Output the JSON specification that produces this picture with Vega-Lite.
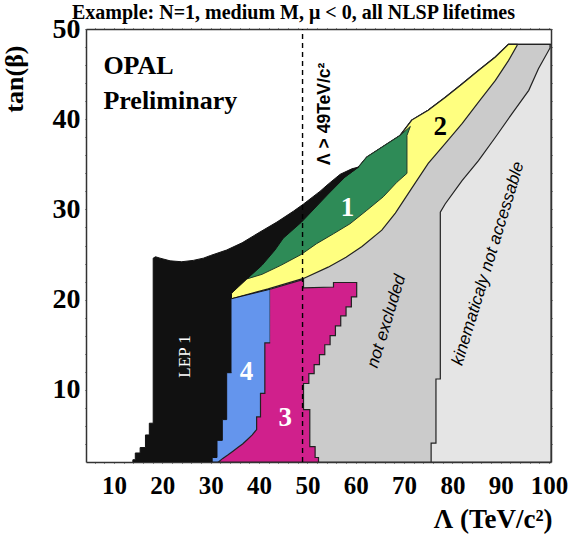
{
  "$schema": "https://vega.github.io/schema/vega-lite/v6.json",
  "width": 465,
  "height": 433,
  "autosize": {"type": "none"},
  "padding": {"left": 86, "top": 29, "right": 20, "bottom": 74},
  "background": "white",
  "title": {"text": "Example: N=1, medium M, μ < 0, all NLSP lifetimes", "font": "Liberation Serif", "fontSize": 20, "fontWeight": "bold", "color": "#000", "anchor": "middle", "frame": "group", "dx": -25, "offset": -24, "baseline": "alphabetic"},
  "config": {"view": {"stroke": null}},
  "data": {"values": [
    {"r":"lg","x":60,"y":2},{"r":"lg","x":100.4,"y":2},{"r":"lg","x":100.4,"y":48.3},{"r":"lg","x":91.6,"y":48.3},{"r":"lg","x":88.9,"y":46.9},{"r":"lg","x":85.4,"y":45.4},{"r":"lg","x":82,"y":43.9},{"r":"lg","x":78.5,"y":42.4},{"r":"lg","x":75,"y":41},{"r":"lg","x":71.6,"y":39.9},{"r":"lg","x":69.2,"y":38.2},{"r":"lg","x":62.3,"y":35.8},{"r":"lg","x":60.6,"y":34.7},
    {"r":"gr","x":40,"y":2},{"r":"gr","x":75.6,"y":2},{"r":"gr","x":75.6,"y":4.1},{"r":"gr","x":76.6,"y":4.1},{"r":"gr","x":76.6,"y":11.2},{"r":"gr","x":77.5,"y":11.2},{"r":"gr","x":77.5,"y":29.7},{"r":"gr","x":78.5,"y":30.6},{"r":"gr","x":82,"y":33.2},{"r":"gr","x":85.4,"y":35.4},{"r":"gr","x":88.9,"y":38},{"r":"gr","x":92.3,"y":40.6},{"r":"gr","x":95.8,"y":43.2},{"r":"gr","x":97.8,"y":45.6},{"r":"gr","x":100.2,"y":47.9},{"r":"gr","x":100.2,"y":48.3},{"r":"gr","x":91.6,"y":48.3},{"r":"gr","x":88.9,"y":46.9},{"r":"gr","x":85.4,"y":45.4},{"r":"gr","x":82,"y":43.9},{"r":"gr","x":78.5,"y":42.4},{"r":"gr","x":75,"y":41},{"r":"gr","x":71.6,"y":39.9},{"r":"gr","x":69.2,"y":38.2},{"r":"gr","x":62.3,"y":35.8},{"r":"gr","x":60.6,"y":34.7},{"r":"gr","x":40,"y":20},
    {"r":"ye","x":34.3,"y":20.1},{"r":"ye","x":41.9,"y":21.2},{"r":"ye","x":49.2,"y":22.35},{"r":"ye","x":54.3,"y":23.6},{"r":"ye","x":58,"y":24.7},{"r":"ye","x":61.3,"y":25.9},{"r":"ye","x":65.4,"y":27.7},{"r":"ye","x":68.2,"y":29.6},{"r":"ye","x":71.4,"y":32.2},{"r":"ye","x":75,"y":35.1},{"r":"ye","x":78.5,"y":37.3},{"r":"ye","x":82,"y":39.5},{"r":"ye","x":85.4,"y":41.9},{"r":"ye","x":88.9,"y":44.3},{"r":"ye","x":91.6,"y":46.5},{"r":"ye","x":93.4,"y":48.2},{"r":"ye","x":93.4,"y":48.3},{"r":"ye","x":91.6,"y":48.3},{"r":"ye","x":88.9,"y":46.9},{"r":"ye","x":85.4,"y":45.4},{"r":"ye","x":82,"y":43.9},{"r":"ye","x":78.5,"y":42.4},{"r":"ye","x":75,"y":41},{"r":"ye","x":71.6,"y":39.9},{"r":"ye","x":69.2,"y":38.2},{"r":"ye","x":62.3,"y":35.8},{"r":"ye","x":60.6,"y":34.7},{"r":"ye","x":50,"y":30.5},{"r":"ye","x":40,"y":26},{"r":"ye","x":34.3,"y":20.7},
    {"r":"gn","x":37.5,"y":22.3},{"r":"gn","x":40.6,"y":22.8},{"r":"gn","x":44.5,"y":23.8},{"r":"gn","x":48.7,"y":25},{"r":"gn","x":51.9,"y":26.2},{"r":"gn","x":55.4,"y":27.3},{"r":"gn","x":58.8,"y":28.4},{"r":"gn","x":62.3,"y":29.9},{"r":"gn","x":65.7,"y":31.4},{"r":"gn","x":68.5,"y":33},{"r":"gn","x":70.6,"y":34},{"r":"gn","x":70.6,"y":38.2},{"r":"gn","x":71.3,"y":39.2},{"r":"gn","x":69.2,"y":38.2},{"r":"gn","x":62.3,"y":35.8},{"r":"gn","x":60.6,"y":34.7},{"r":"gn","x":50,"y":30.5},{"r":"gn","x":40,"y":26},
    {"r":"bk","x":13.9,"y":2},{"r":"bk","x":13.9,"y":2.25},{"r":"bk","x":14.4,"y":2.25},{"r":"bk","x":14.4,"y":3},{"r":"bk","x":15.4,"y":3},{"r":"bk","x":15.4,"y":3.6},{"r":"bk","x":16.5,"y":3.6},{"r":"bk","x":16.5,"y":5},{"r":"bk","x":17.3,"y":5},{"r":"bk","x":17.3,"y":6.3},{"r":"bk","x":18.1,"y":6.3},{"r":"bk","x":18.1,"y":24.6},{"r":"bk","x":18.6,"y":24.75},{"r":"bk","x":19.5,"y":24.6},{"r":"bk","x":21.6,"y":24.3},{"r":"bk","x":24,"y":24.2},{"r":"bk","x":26.4,"y":24.35},{"r":"bk","x":28.5,"y":24.6},{"r":"bk","x":30,"y":24.9},{"r":"bk","x":33.3,"y":25.5},{"r":"bk","x":36.5,"y":26.3},{"r":"bk","x":40.2,"y":27.5},{"r":"bk","x":43.7,"y":28.6},{"r":"bk","x":47.1,"y":29.8},{"r":"bk","x":49.2,"y":30.6},{"r":"bk","x":52.6,"y":32},{"r":"bk","x":54.3,"y":32.8},{"r":"bk","x":56.8,"y":33.9},{"r":"bk","x":59.2,"y":34.5},{"r":"bk","x":60.6,"y":34.7},{"r":"bk","x":57.8,"y":33.6},{"r":"bk","x":54.3,"y":31.7},{"r":"bk","x":48.8,"y":28.6},{"r":"bk","x":45,"y":26.8},{"r":"bk","x":43.3,"y":25.5},{"r":"bk","x":40.6,"y":23.8},{"r":"bk","x":37.5,"y":22.3},{"r":"bk","x":35.7,"y":21.4},{"r":"bk","x":34.3,"y":20.7},{"r":"bk","x":34.3,"y":20.1},{"r":"bk","x":34.3,"y":2},
    {"r":"bl","x":34.3,"y":20.1},{"r":"bl","x":42.3,"y":21.15},{"r":"bl","x":42.3,"y":2},{"r":"bl","x":30.3,"y":2},{"r":"bl","x":30.3,"y":2.5},{"r":"bl","x":31.3,"y":2.5},{"r":"bl","x":31.3,"y":4.4},{"r":"bl","x":32.4,"y":4.4},{"r":"bl","x":32.4,"y":6.7},{"r":"bl","x":33.3,"y":6.7},{"r":"bl","x":33.3,"y":11.9},{"r":"bl","x":34.3,"y":11.9},
    {"r":"mg","x":42.3,"y":21.15},{"r":"mg","x":49.2,"y":22.25},{"r":"mg","x":49.2,"y":21.3},{"r":"mg","x":55.4,"y":21.4},{"r":"mg","x":55.4,"y":21.9},{"r":"mg","x":60.2,"y":21.9},{"r":"mg","x":60.2,"y":20.3},{"r":"mg","x":59.1,"y":20.3},{"r":"mg","x":59.1,"y":19.2},{"r":"mg","x":58,"y":19.2},{"r":"mg","x":58,"y":18.2},{"r":"mg","x":56.9,"y":18.2},{"r":"mg","x":56.9,"y":17.1},{"r":"mg","x":55.8,"y":17.1},{"r":"mg","x":55.8,"y":16},{"r":"mg","x":54.7,"y":16},{"r":"mg","x":54.7,"y":15},{"r":"mg","x":53.6,"y":15},{"r":"mg","x":53.6,"y":13.9},{"r":"mg","x":52.5,"y":13.9},{"r":"mg","x":52.5,"y":12.8},{"r":"mg","x":51.4,"y":12.8},{"r":"mg","x":51.4,"y":11.8},{"r":"mg","x":50.3,"y":11.8},{"r":"mg","x":50.3,"y":10.7},{"r":"mg","x":49.2,"y":10.7},{"r":"mg","x":49.2,"y":7.8},{"r":"mg","x":50.5,"y":7.8},{"r":"mg","x":50.5,"y":3.7},{"r":"mg","x":51.6,"y":3.7},{"r":"mg","x":51.6,"y":2.5},{"r":"mg","x":52.3,"y":2.5},{"r":"mg","x":52.3,"y":2},{"r":"mg","x":31.6,"y":2},{"r":"mg","x":32.5,"y":2.4},{"r":"mg","x":33.6,"y":2.8},{"r":"mg","x":34.6,"y":3.2},{"r":"mg","x":35.6,"y":3.6},{"r":"mg","x":36.6,"y":4},{"r":"mg","x":37.6,"y":4.5},{"r":"mg","x":38.6,"y":5},{"r":"mg","x":39.5,"y":5.6},{"r":"mg","x":39.5,"y":7},{"r":"mg","x":40.3,"y":7},{"r":"mg","x":40.3,"y":9.6},{"r":"mg","x":41.2,"y":9.6},{"r":"mg","x":41.2,"y":15.2},{"r":"mg","x":42.3,"y":15.2}
  ]},
  "resolve": {"axis": {"x": "independent", "y": "independent"}},
  "layer": [
    {
      "transform": [{"filter": "datum.r === 'lg'"}],
      "mark": {"type": "line", "fill": "#E5E5E5", "stroke": "#222222", "strokeWidth": 1.2, "clip": true},
      "encoding": {
        "x": {"field": "x", "type": "quantitative", "scale": {"domain": [4.2, 100.4], "nice": false, "zero": false},
          "axis": {"orient": "bottom", "values": [6,8,10,12,14,16,18,20,22,24,26,28,30,32,34,36,38,40,42,44,46,48,50,52,54,56,58,60,62,64,66,68,70,72,74,76,78,80,82,84,86,88,90,92,94,96,98,100],
            "format": "d", "labelExpr": "datum.value % 10 === 0 ? datum.label : ''",
            "labelFont": "Liberation Serif", "labelFontWeight": "bold", "labelFontSize": 25, "labelColor": "#000",
            "labelBaseline": "alphabetic", "labelPadding": 30, "labelOverlap": false, "labelFlush": false,
            "tickSize": 1, "tickColor": "#333333", "tickWidth": 1,
            "encode": {"ticks": {"update": {"y2": {"signal": "datum.value % 10 === 0 ? -12 : -6"}}}},
            "domainColor": "#333333", "domainWidth": 1.5, "grid": false,
            "title": "Λ (TeV/c²)", "titleFont": "Liberation Serif", "titleFontWeight": "bold", "titleFontSize": 27, "titleColor": "#000",
            "titleX": 466, "titleY": 65, "titleAlign": "right", "titleBaseline": "alphabetic", "titleAngle": 0}},
        "y": {"field": "y", "type": "quantitative", "scale": {"domain": [2, 50], "nice": false, "zero": false},
          "axis": {"orient": "left", "values": [4,6,8,10,12,14,16,18,20,22,24,26,28,30,32,34,36,38,40,42,44,46,48,50],
            "format": "d", "labelExpr": "datum.value % 10 === 0 ? datum.label : ''",
            "labelFont": "Liberation Serif", "labelFontWeight": "bold", "labelFontSize": 28, "labelColor": "#000",
            "labelBaseline": "middle", "labelPadding": 5, "labelOverlap": false, "labelFlush": false,
            "tickSize": 1, "tickColor": "#333333", "tickWidth": 1,
            "encode": {"ticks": {"update": {"x2": {"signal": "datum.value % 10 === 0 ? 12 : 6"}}}},
            "domainColor": "#333333", "domainWidth": 1.5, "grid": false,
            "title": "tan(β)", "titleFont": "Liberation Serif", "titleFontWeight": "bold", "titleFontSize": 26, "titleColor": "#000",
            "titleX": -64, "titleY": 16, "titleAlign": "right", "titleBaseline": "alphabetic", "titleAngle": -90}},
        "order": {"value": null}
      }
    },
    {
      "transform": [{"filter": "datum.r === 'gr'"}],
      "mark": {"type": "line", "fill": "#CBCBCB", "stroke": "#222222", "strokeWidth": 1.2, "clip": true},
      "encoding": {
        "x": {"field": "x", "type": "quantitative", "scale": {"domain": [4.2, 100.4], "nice": false, "zero": false},
          "axis": {"orient": "top", "values": [6,8,10,12,14,16,18,20,22,24,26,28,30,32,34,36,38,40,42,44,46,48,50,52,54,56,58,60,62,64,66,68,70,72,74,76,78,80,82,84,86,88,90,92,94,96,98,100],
            "labels": false, "title": null, "tickSize": 1, "tickColor": "#333333", "tickWidth": 1,
            "encode": {"ticks": {"update": {"y2": {"signal": "datum.value % 10 === 0 ? 12 : 6"}}}},
            "domainColor": "#333333", "domainWidth": 1.5, "grid": false}},
        "y": {"field": "y", "type": "quantitative", "scale": {"domain": [2, 50], "nice": false, "zero": false},
          "axis": {"orient": "right", "values": [4,6,8,10,12,14,16,18,20,22,24,26,28,30,32,34,36,38,40,42,44,46,48,50],
            "labels": false, "title": null, "tickSize": 1, "tickColor": "#333333", "tickWidth": 1,
            "encode": {"ticks": {"update": {"x2": {"signal": "datum.value % 10 === 0 ? -12 : -6"}}}},
            "domainColor": "#333333", "domainWidth": 1.5, "grid": false}},
        "order": {"value": null}
      }
    },
    {
      "transform": [{"filter": "datum.r === 'ye'"}],
      "mark": {"type": "line", "fill": "#FFFF80", "stroke": "#222222", "strokeWidth": 1.2, "clip": true},
      "encoding": {
        "x": {"field": "x", "type": "quantitative", "scale": {"domain": [4.2, 100.4], "nice": false, "zero": false}, "axis": null},
        "y": {"field": "y", "type": "quantitative", "scale": {"domain": [2, 50], "nice": false, "zero": false}, "axis": null},
        "order": {"value": null}
      }
    },
    {
      "transform": [{"filter": "datum.r === 'gn'"}],
      "mark": {"type": "line", "fill": "#2E8B57", "stroke": "#1f3a2a", "strokeWidth": 1, "clip": true},
      "encoding": {
        "x": {"field": "x", "type": "quantitative", "scale": {"domain": [4.2, 100.4], "nice": false, "zero": false}, "axis": null},
        "y": {"field": "y", "type": "quantitative", "scale": {"domain": [2, 50], "nice": false, "zero": false}, "axis": null},
        "order": {"value": null}
      }
    },
    {
      "transform": [{"filter": "datum.r === 'bk'"}],
      "mark": {"type": "line", "fill": "#111111", "stroke": "#111111", "strokeWidth": 1, "clip": true},
      "encoding": {
        "x": {"field": "x", "type": "quantitative", "scale": {"domain": [4.2, 100.4], "nice": false, "zero": false}, "axis": null},
        "y": {"field": "y", "type": "quantitative", "scale": {"domain": [2, 50], "nice": false, "zero": false}, "axis": null},
        "order": {"value": null}
      }
    },
    {
      "transform": [{"filter": "datum.r === 'bl'"}],
      "mark": {"type": "line", "fill": "#6495ED", "stroke": "#111111", "strokeWidth": 1, "clip": true},
      "encoding": {
        "x": {"field": "x", "type": "quantitative", "scale": {"domain": [4.2, 100.4], "nice": false, "zero": false}, "axis": null},
        "y": {"field": "y", "type": "quantitative", "scale": {"domain": [2, 50], "nice": false, "zero": false}, "axis": null},
        "order": {"value": null}
      }
    },
    {
      "transform": [{"filter": "datum.r === 'mg'"}],
      "mark": {"type": "line", "fill": "#D0208C", "stroke": "#222222", "strokeWidth": 1.2, "clip": true},
      "encoding": {
        "x": {"field": "x", "type": "quantitative", "scale": {"domain": [4.2, 100.4], "nice": false, "zero": false}, "axis": null},
        "y": {"field": "y", "type": "quantitative", "scale": {"domain": [2, 50], "nice": false, "zero": false}, "axis": null},
        "order": {"value": null}
      }
    },
    {
      "data": {"values": [{"x": 49}]},
      "mark": {"type": "rule", "stroke": "#000000", "strokeWidth": 1.4, "strokeDash": [5, 4]},
      "encoding": {
        "x": {"field": "x", "type": "quantitative", "scale": {"domain": [4.2, 100.4], "nice": false, "zero": false}, "axis": null},
        "y": {"datum": 2, "type": "quantitative", "scale": {"domain": [2, 50], "nice": false, "zero": false}, "axis": null},
        "y2": {"datum": 50}
      }
    },
    {
      "data": {"values": [{"t": "OPAL", "x": 7.8, "y": 45.0}, {"t": "Preliminary", "x": 7.8, "y": 41.1}]},
      "mark": {"type": "text", "font": "Liberation Serif", "fontWeight": "bold", "fontSize": 26, "align": "left", "baseline": "alphabetic", "color": "#000"},
      "encoding": {
        "x": {"field": "x", "type": "quantitative", "scale": {"domain": [4.2, 100.4], "nice": false, "zero": false}, "axis": null},
        "y": {"field": "y", "type": "quantitative", "scale": {"domain": [2, 50], "nice": false, "zero": false}, "axis": null},
        "text": {"field": "t"}
      }
    },
    {
      "data": {"values": [{"t": "1", "x": 58.3, "y": 30.2}, {"t": "4", "x": 37.4, "y": 12.0}, {"t": "3", "x": 45.4, "y": 6.9}]},
      "mark": {"type": "text", "font": "Liberation Serif", "fontWeight": "bold", "fontSize": 27, "align": "center", "baseline": "middle", "color": "#FFFFFF"},
      "encoding": {
        "x": {"field": "x", "type": "quantitative", "scale": {"domain": [4.2, 100.4], "nice": false, "zero": false}, "axis": null},
        "y": {"field": "y", "type": "quantitative", "scale": {"domain": [2, 50], "nice": false, "zero": false}, "axis": null},
        "text": {"field": "t"}
      }
    },
    {
      "data": {"values": [{"t": "2", "x": 77.5, "y": 39.1}]},
      "mark": {"type": "text", "font": "Liberation Serif", "fontWeight": "bold", "fontSize": 27, "align": "center", "baseline": "middle", "color": "#000000"},
      "encoding": {
        "x": {"field": "x", "type": "quantitative", "scale": {"domain": [4.2, 100.4], "nice": false, "zero": false}, "axis": null},
        "y": {"field": "y", "type": "quantitative", "scale": {"domain": [2, 50], "nice": false, "zero": false}, "axis": null},
        "text": {"field": "t"}
      }
    },
    {
      "data": {"values": [{"t": "LEP 1", "x": 24.7, "y": 13.7}]},
      "mark": {"type": "text", "font": "Liberation Serif", "fontSize": 17, "align": "center", "baseline": "middle", "angle": 270, "color": "#FFFFFF"},
      "encoding": {
        "x": {"field": "x", "type": "quantitative", "scale": {"domain": [4.2, 100.4], "nice": false, "zero": false}, "axis": null},
        "y": {"field": "y", "type": "quantitative", "scale": {"domain": [2, 50], "nice": false, "zero": false}, "axis": null},
        "text": {"field": "t"}
      }
    },
    {
      "data": {"values": [{"t": "not excluded", "x": 66.4, "y": 17.6}, {"t": "kinematicaly not accessable", "x": 87.4, "y": 24.0}]},
      "mark": {"type": "text", "font": "Liberation Sans", "fontStyle": "italic", "fontSize": 17, "align": "center", "baseline": "middle", "angle": 287, "color": "#000000"},
      "encoding": {
        "x": {"field": "x", "type": "quantitative", "scale": {"domain": [4.2, 100.4], "nice": false, "zero": false}, "axis": null},
        "y": {"field": "y", "type": "quantitative", "scale": {"domain": [2, 50], "nice": false, "zero": false}, "axis": null},
        "text": {"field": "t"}
      }
    },
    {
      "data": {"values": [{"t": "Λ > 49TeV/c²", "x": 53.6, "y": 40.6}]},
      "mark": {"type": "text", "font": "Liberation Sans", "fontWeight": "bold", "fontSize": 17.5, "align": "center", "baseline": "middle", "angle": 270, "color": "#000000"},
      "encoding": {
        "x": {"field": "x", "type": "quantitative", "scale": {"domain": [4.2, 100.4], "nice": false, "zero": false}, "axis": null},
        "y": {"field": "y", "type": "quantitative", "scale": {"domain": [2, 50], "nice": false, "zero": false}, "axis": null},
        "text": {"field": "t"}
      }
    }
  ]
}
